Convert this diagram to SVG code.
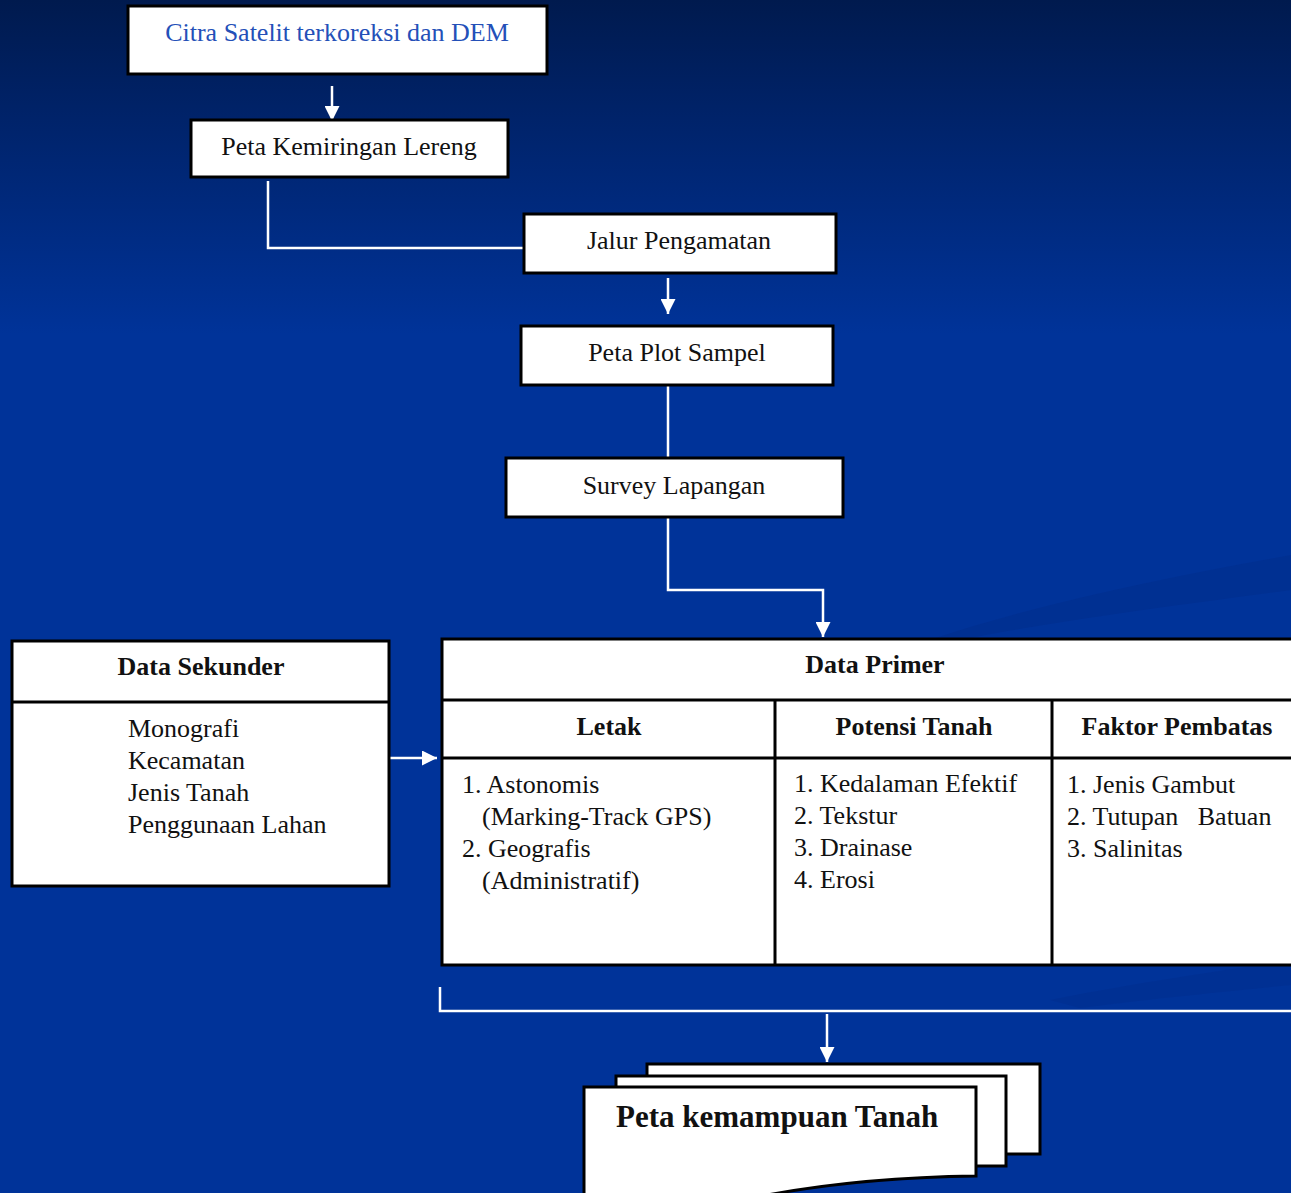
<svg xmlns="http://www.w3.org/2000/svg" width="1291" height="1193" viewBox="0 0 1291 1193">
<style>
.box{fill:#fff;stroke:#000;stroke-width:3}
.t{font-family:"Liberation Serif","Times New Roman",serif;font-size:26px;fill:#111}
.c{text-anchor:middle}
.b{font-weight:bold}
.conn{fill:none;stroke:#fff;stroke-width:2.5}
</style>
<defs>
<linearGradient id="bg" x1="0" y1="0" x2="0" y2="1">
<stop offset="0" stop-color="#001a4e"/>
<stop offset="0.1" stop-color="#00236a"/>
<stop offset="0.28" stop-color="#003399"/>
<stop offset="1" stop-color="#003399"/>
</linearGradient>
<marker id="ah" viewBox="0 0 10 10" refX="10" refY="5" markerWidth="6.5" markerHeight="6" markerUnits="strokeWidth" orient="auto">
<path d="M0,0 L10,5 L0,10 Z" fill="#fff"/>
</marker>
</defs>
<rect width="1291" height="1193" fill="url(#bg)"/>
<path d="M930,640 C1050,600 1180,575 1291,555 L1291,590 C1180,605 1060,620 960,640 Z" fill="#002f8f" opacity="0.7"/>
<path d="M1050,1000 C1150,980 1230,970 1291,960 L1291,985 C1220,992 1140,1000 1080,1008 Z" fill="#002f8f" opacity="0.6"/>

<g id="connectors">
<line class="conn" x1="332" y1="86" x2="332" y2="121" marker-end="url(#ah)"/>
<polyline class="conn" points="268,181 268,248 524,248"/>
<line class="conn" x1="668" y1="278" x2="668" y2="314" marker-end="url(#ah)"/>
<line class="conn" x1="668" y1="385" x2="668" y2="458"/>
<polyline class="conn" points="668,517 668,590 823,590 823,637" marker-end="url(#ah)"/>
<line class="conn" x1="390" y1="758" x2="437" y2="758" marker-end="url(#ah)"/>
<polyline class="conn" points="440,987 440,1011 1291,1011"/>
<line class="conn" x1="827" y1="1014" x2="827" y2="1062" marker-end="url(#ah)"/>
</g>

<g id="citra">
<rect class="box" x="128" y="6" width="419" height="68"/>
<text class="t c" x="337" y="41" style="fill:#2450b8">Citra Satelit terkoreksi dan DEM</text>
</g>
<g id="kemiringan">
<rect class="box" x="191" y="120" width="317" height="57"/>
<text class="t c" x="349" y="155">Peta Kemiringan Lereng</text>
</g>
<g id="jalur">
<rect class="box" x="524" y="214" width="312" height="59"/>
<text class="t c" x="679" y="249">Jalur Pengamatan</text>
</g>
<g id="plot">
<rect class="box" x="521" y="326" width="312" height="59"/>
<text class="t c" x="677" y="361">Peta Plot Sampel</text>
</g>
<g id="survey">
<rect class="box" x="506" y="458" width="337" height="59"/>
<text class="t c" x="674" y="494">Survey Lapangan</text>
</g>

<g id="sekunder">
<rect class="box" x="12" y="641" width="377" height="245"/>
<line x1="12" y1="702" x2="389" y2="702" stroke="#000" stroke-width="3"/>
<text class="t c b" x="201" y="675">Data Sekunder</text>
<text class="t" x="128" y="737">Monografi</text>
<text class="t" x="128" y="769">Kecamatan</text>
<text class="t" x="128" y="801">Jenis Tanah</text>
<text class="t" x="128" y="833">Penggunaan Lahan</text>
</g>

<g id="primer">
<rect class="box" x="442" y="639" width="860" height="326"/>
<line x1="442" y1="700" x2="1291" y2="700" stroke="#000" stroke-width="3"/>
<line x1="442" y1="758" x2="1291" y2="758" stroke="#000" stroke-width="3"/>
<line x1="775" y1="700" x2="775" y2="965" stroke="#000" stroke-width="3"/>
<line x1="1052" y1="700" x2="1052" y2="965" stroke="#000" stroke-width="3"/>
<text class="t c b" x="875" y="673">Data Primer</text>
<text class="t c b" x="609" y="735">Letak</text>
<text class="t c b" x="914" y="735">Potensi Tanah</text>
<text class="t c b" x="1177" y="735">Faktor Pembatas</text>
<text class="t" x="462" y="793">1. Astonomis</text>
<text class="t" x="482" y="825">(Marking-Track GPS)</text>
<text class="t" x="462" y="857">2. Geografis</text>
<text class="t" x="482" y="889">(Administratif)</text>
<text class="t" x="794" y="792">1. Kedalaman Efektif</text>
<text class="t" x="794" y="824">2. Tekstur</text>
<text class="t" x="794" y="856">3. Drainase</text>
<text class="t" x="794" y="888">4. Erosi</text>
<text class="t" x="1067" y="793">1. Jenis Gambut</text>
<text class="t" x="1067" y="825" xml:space="preserve">2. Tutupan   Batuan</text>
<text class="t" x="1067" y="857">3. Salinitas</text>
</g>

<g id="hasil">
<rect class="box" x="647" y="1064" width="393" height="90"/>
<rect class="box" x="616" y="1076" width="390" height="90"/>
<path class="box" d="M584,1200 V1087 H976 V1176 C890,1177 820,1185 762,1196 L584,1200 Z"/>
<text class="t b" x="616" y="1127" style="font-size:31px">Peta kemampuan Tanah</text>
</g>
</svg>
